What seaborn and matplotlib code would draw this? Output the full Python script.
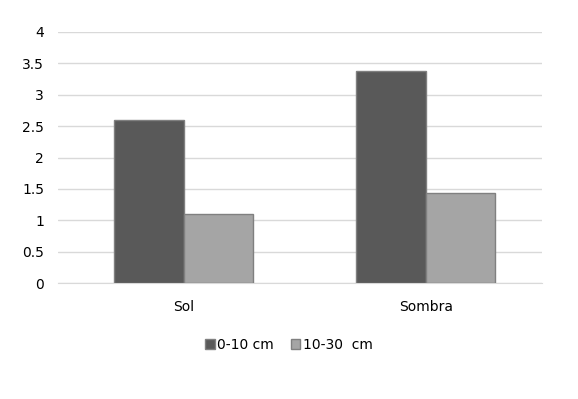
import numpy as np
import pandas as pd
import seaborn as sns
import matplotlib.pyplot as plt

categories = ["Sol", "Sombra"]
depths = ["0-10 cm", "10-30  cm"]
values_0_10 = [2.6, 3.38]
values_10_30 = [1.1, 1.43]

df = pd.DataFrame({
    "site": categories * 2,
    "depth": [depths[0]] * 2 + [depths[1]] * 2,
    "value": values_0_10 + values_10_30,
})

sns.set_style("white")
plt.rcParams["font.family"] = ["DejaVu Sans"]
plt.rcParams["text.color"] = "#000000"

fig = plt.figure(figsize=(5.78, 3.99), dpi=100)
ax = fig.add_axes([0.1003, 0.2907, 0.8374, 0.6291])

sns.barplot(df, x="site", y="value", hue="depth", palette=["#595959", "#a5a5a5"],
            width=0.575, edgecolor="#808080", linewidth=1.0, saturation=1, ax=ax, zorder=3)

ax.set_ylim(0, 4)
ax.set_xlim(-0.52, 1.48)
ax.set_yticks(np.arange(0, 4.01, 0.5))
ax.set_yticklabels(["0", "0.5", "1", "1.5", "2", "2.5", "3", "3.5", "4"])
ax.yaxis.grid(True, color="#d9d9d9", linewidth=1.0, zorder=0)
ax.set_axisbelow(True)
for s in ["top", "right", "left"]:
    ax.spines[s].set_visible(False)
ax.spines["bottom"].set_color("#d9d9d9")
ax.tick_params(axis="both", length=0, labelsize=10, colors="#000000", pad=10)
ax.tick_params(axis="x", pad=12)
ax.set(xlabel="", ylabel="")

handles, labels = ax.get_legend_handles_labels()
leg = ax.legend(handles, labels, loc="center", bbox_to_anchor=(0.5, 0.135), bbox_transform=fig.transFigure,
                ncol=2, frameon=False, fontsize=10, handlelength=0.7, handleheight=0.7,
                handletextpad=0.2, columnspacing=1.2)
for t in leg.get_texts():
    t.set_color("#000000")

plt.savefig("out.png", dpi=100)
